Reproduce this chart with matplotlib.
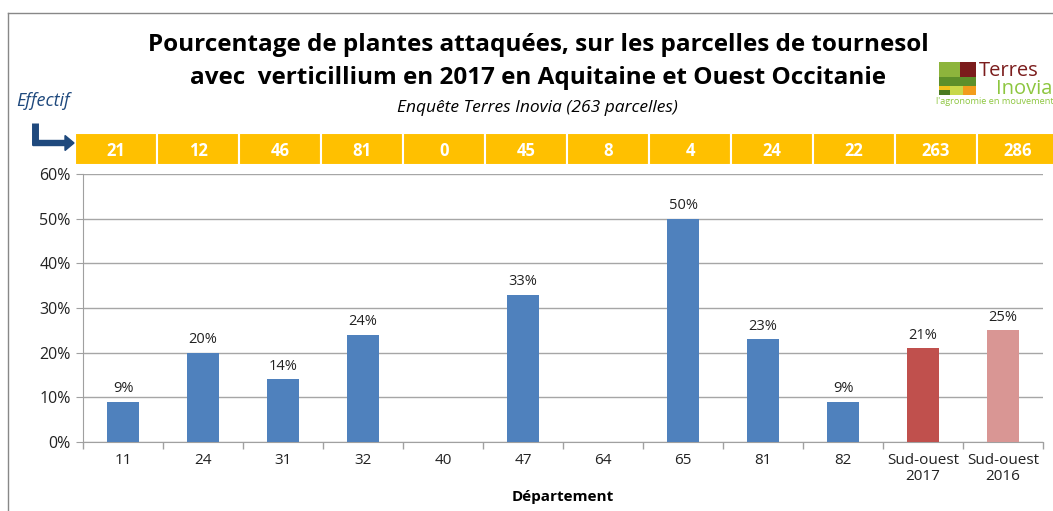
import matplotlib
matplotlib.use("Agg")
import matplotlib.pyplot as plt
from matplotlib.patches import Rectangle, FancyArrow
import numpy as np

# data
departements = ["11", "24", "31", "32", "40", "47", "64", "65", "81", "82",
                "Sud-ouest\n2017", "Sud-ouest\n2016"]
pct_attaque = [9, 20, 14, 24, 0, 33, 0, 50, 23, 9, 21, 25]
effectifs = [21, 12, 46, 81, 0, 45, 8, 4, 24, 22, 263, 286]
labels_pct = ["9%", "20%", "14%", "24%", "", "33%", "", "50%", "23%", "9%", "21%", "25%"]

bar_colors = ["#4f81bd"] * 10 + ["#c0504d", "#d99694"]

plt.rcParams["font.family"] = ["Open Sans", "DejaVu Sans"]

W, H = 1053, 511
fig = plt.figure(figsize=(W / 100, H / 100), dpi=100)

def px(x0, y0, x1, y1):
    # axes rect from pixel box (top-left origin)
    return [x0 / W, 1 - y1 / H, (x1 - x0) / W, (y1 - y0) / H]

# frame lines (left and top of the slide box)
fig.add_artist(plt.Line2D([8 / W, 8 / W], [0, 1 - 13 / H], color="#888888", lw=1))
fig.add_artist(plt.Line2D([8 / W, 1], [1 - 13 / H, 1 - 13 / H], color="#888888", lw=1))

# main bar chart
ax = fig.add_axes(px(83, 174, 1043, 442))
x = np.arange(len(departements))
bars = ax.bar(x, pct_attaque, width=0.4, color=bar_colors, zorder=3)
for xi, v, lab in zip(x, pct_attaque, labels_pct):
    if lab:
        ax.text(xi, v + 1.2, lab, ha="center", va="bottom", fontsize=10.5, color="#222222")

ax.set_xlim(-0.5, len(departements) - 0.5)
ax.set_ylim(0, 60)
ax.set_yticks(np.arange(0, 61, 10))
ax.set_yticklabels([f"{v}%" for v in range(0, 61, 10)], fontsize=11.5, color="#222222")
ax.set_xticks(x)
ax.set_xticklabels(departements, fontsize=11, color="#222222", linespacing=1.1)
ax.set_xticks(np.arange(-0.5, len(departements), 1), minor=True)
ax.tick_params(axis="x", which="major", length=0, pad=8)
ax.tick_params(axis="x", which="minor", length=5, color="#a0a0a0", width=1)
ax.tick_params(axis="y", length=5, color="#a0a0a0", pad=4)
ax.grid(axis="y", color="#a6a6a6", lw=1, zorder=0)
for s in ["top", "right"]:
    ax.spines[s].set_visible(False)
ax.spines["left"].set_color("#a0a0a0")
ax.spines["bottom"].set_color("#a0a0a0")
ax.set_xlabel("Département", fontsize=11, fontweight="bold", labelpad=4)

# effectif strip
axs = fig.add_axes(px(75, 133, 75 + 12 * 82, 165))
axs.set_xlim(0, 12)
axs.set_ylim(0, 1)
axs.axis("off")
for i, n in enumerate(effectifs):
    axs.add_patch(Rectangle((i, 0), 1, 1, facecolor="#ffc000", edgecolor="white", lw=1.5))
    axs.text(i + 0.5, 0.45, str(n), ha="center", va="center", color="white",
             fontsize=12, fontweight="bold")

# titles
fig.text(538 / W, 1 - 45 / H, "Pourcentage de plantes attaquées, sur les parcelles de tournesol",
         ha="center", va="center", fontsize=17.5, fontweight="bold")
fig.text(538 / W, 1 - 78 / H, "avec  verticillium en 2017 en Aquitaine et Ouest Occitanie",
         ha="center", va="center", fontsize=17.5, fontweight="bold")
fig.text(537 / W, 1 - 108 / H, "Enquête Terres Inovia (263 parcelles)",
         ha="center", va="center", fontsize=12.5, style="italic")

# Effectif label and arrow
fig.text(16 / W, 1 - 101 / H, "Effectif", ha="left", va="center", fontsize=13,
         style="italic", color="#1f497d")
fig.add_artist(plt.Line2D([35 / W, 35 / W], [1 - 123 / H, 1 - 145 / H],
                          color="#1f497d", lw=5, solid_capstyle="butt"))
fig.add_artist(FancyArrow(33 / W, 1 - 143 / H, 32 / W, 0, width=5 / H,
                          head_width=15 / H, head_length=9 / W,
                          length_includes_head=False, color="#1f497d",
                          transform=fig.transFigure))

# logo
axl = fig.add_axes(px(930, 55, 1053, 112))
axl.set_xlim(930, 1053)
axl.set_ylim(112, 55)
axl.axis("off")
axl.add_patch(Rectangle((939, 62), 21, 15, color="#8db43c", lw=0))
axl.add_patch(Rectangle((960, 62), 16, 15, color="#7b1c1c", lw=0))
axl.add_patch(Rectangle((939, 77), 37, 9, color="#5d8f2a", lw=0))
axl.add_patch(Rectangle((939, 86), 11, 9, color="#f2c21b", lw=0))
axl.add_patch(Rectangle((950, 86), 13, 9, color="#c8d84a", lw=0))
axl.add_patch(Rectangle((963, 86), 13, 9, color="#f29c1b", lw=0))
axl.add_patch(Rectangle((939, 90), 11, 5, color="#4a7a20", lw=0))
axl.text(979, 71, "Terres", fontsize=14.5, color="#7b1c1c", va="center", ha="left")
axl.text(996, 89, "Inovia", fontsize=14.5, color="#8dc63f", va="center", ha="left")
axl.text(936, 102, "l'agronomie en mouvement", fontsize=6.6, color="#8dc63f",
         va="center", ha="left")

fig.savefig("out.png", dpi=100)
